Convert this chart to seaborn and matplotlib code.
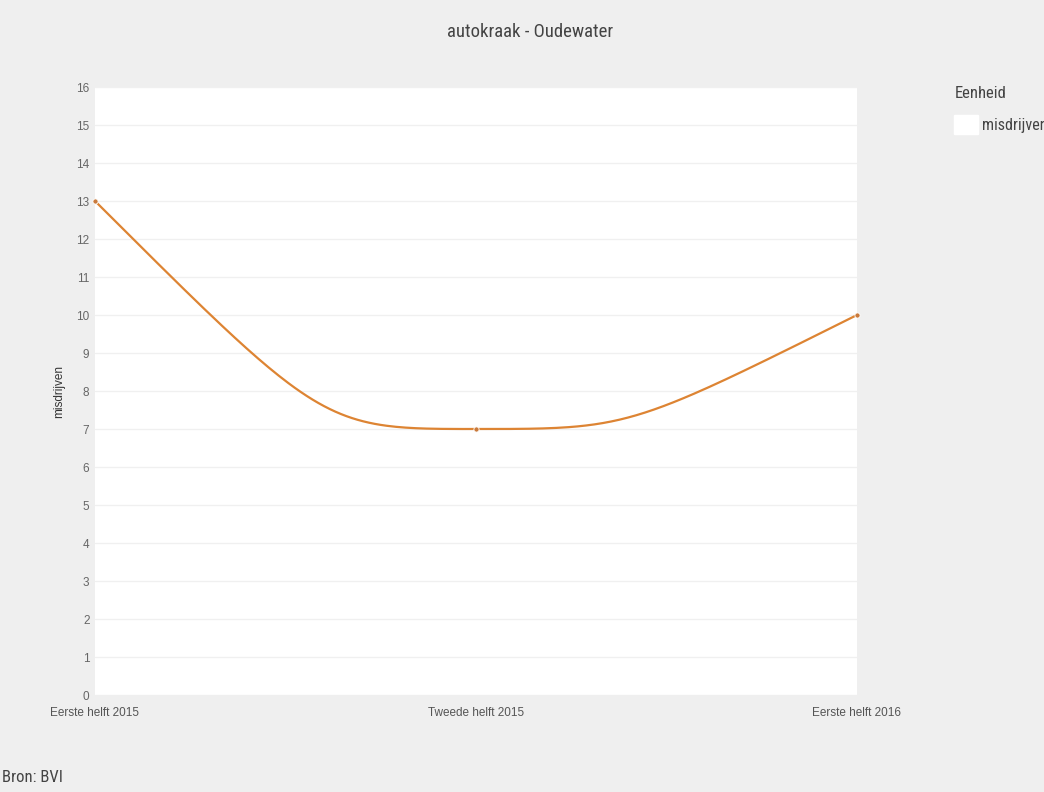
import numpy as np
import pandas as pd
import matplotlib
matplotlib.use("Agg")
import matplotlib.pyplot as plt
import seaborn as sns
from matplotlib.patches import Patch

# ---- data ----
categories = ["Eerste helft 2015", "Tweede helft 2015", "Eerste helft 2016"]
values = [13, 7, 10]
yticks = list(range(0, 17))
title = "autokraak - Oudewater"
ylabel = "misdrijven"
legend_title = "Eenheid"
series_name = "misdrijven"
source = "Bron: BVI"

LINE = "#dd8433"
BG = "#efefef"
NARROW = ["Roboto Condensed", "Roboto", "DejaVu Sans"]


def spline_path(xs, ys, n=100):
    """Spline (cubic Bezier) rendering of the data line, Highcharts-like controls."""
    xs = list(map(float, xs))
    ys = list(map(float, ys))
    N = len(xs)
    sm, den = 1.5, 2.5
    lc = [None] * N
    rc = [None] * N
    for i in range(1, N - 1):
        x, y = xs[i], ys[i]
        lx, ly = xs[i - 1], ys[i - 1]
        nx, ny = xs[i + 1], ys[i + 1]
        lcx, lcy = (sm * x + lx) / den, (sm * y + ly) / den
        rcx, rcy = (sm * x + nx) / den, (sm * y + ny) / den
        if rcx != lcx:
            corr = ((rcy - lcy) * (rcx - x)) / (rcx - lcx) + y - rcy
            lcy += corr
            rcy += corr
        if lcy > ly and lcy > y:
            lcy = max(ly, y); rcy = 2 * y - lcy
        elif lcy < ly and lcy < y:
            lcy = min(ly, y); rcy = 2 * y - lcy
        if rcy > ny and rcy > y:
            rcy = max(ny, y); lcy = 2 * y - rcy
        elif rcy < ny and rcy < y:
            rcy = min(ny, y); lcy = 2 * y - rcy
        lc[i] = (lcx, lcy)
        rc[i] = (rcx, rcy)
    px, py = [], []
    t = np.linspace(0, 1, n)
    for i in range(N - 1):
        p0 = np.array([xs[i], ys[i]])
        p3 = np.array([xs[i + 1], ys[i + 1]])
        c1 = rc[i] if rc[i] is not None else lc[i + 1]
        c2 = lc[i + 1] if lc[i + 1] is not None else rc[i]
        if c1 is None:
            c1 = p0
        if c2 is None:
            c2 = p3
        c1 = np.array(c1); c2 = np.array(c2)
        b = ((1 - t) ** 3)[:, None] * p0 + (3 * (1 - t) ** 2 * t)[:, None] * c1 \
            + (3 * (1 - t) * t ** 2)[:, None] * c2 + (t ** 3)[:, None] * p3
        px.extend(b[:, 0]); py.extend(b[:, 1])
    return np.array(px), np.array(py)


sns.set_theme(style="white")
plt.rcParams["font.family"] = ["Liberation Sans", "DejaVu Sans"]

fig = plt.figure(figsize=(10.44, 7.92), dpi=100)
fig.patch.set_facecolor(BG)
ax = fig.add_axes([95 / 1044, 1 - 695 / 792, (857 - 95) / 1044, (695 - 87) / 792])
ax.set_facecolor("white")

xpos = np.arange(len(categories))
cx, cy = spline_path(xpos, values)
curve = pd.DataFrame({"x": cx, "y": cy})
pts = pd.DataFrame({"x": xpos, "y": values})

sns.lineplot(data=curve, x="x", y="y", ax=ax, color=LINE, linewidth=1.6,
             estimator=None, sort=False)
sns.scatterplot(data=pts, x="x", y="y", ax=ax, color="#c97a3c", s=14,
                edgecolor="white", linewidth=0.6, zorder=5, clip_on=False)

ax.set_xlim(0, 2)
ax.set_ylim(0, 16)
ax.set_yticks(yticks)
ax.set_yticklabels([str(v) for v in yticks])
ax.set_xticks(xpos)
ax.set_xticklabels(categories)
ax.grid(axis="y", color="#f0f0f0", linewidth=1)
ax.grid(axis="x", visible=False)
for sp in ax.spines.values():
    sp.set_visible(False)
ax.tick_params(axis="y", length=0, pad=4, labelsize=8.5, labelcolor="#666666")
ax.tick_params(axis="x", length=0, pad=9, labelsize=8.5, labelcolor="#555555")
ax.set_xlabel("")
ax.set_ylabel(ylabel, fontsize=8.5, color="#333333", labelpad=8)

fig.text(530 / 1044, 1 - 32 / 792, title, ha="center", va="center",
         fontsize=13.5, color="#444444", family=NARROW)
fig.text(2 / 1044, 1 - 778 / 792, source, ha="left", va="center",
         fontsize=12, color="#444444", family=NARROW)

leg = fig.legend(handles=[Patch(facecolor="white", edgecolor="white", label=series_name)],
                 title=legend_title, loc="upper left",
                 bbox_to_anchor=(940 / 1044, 1 - 72 / 792), frameon=False,
                 handlelength=1.45, handleheight=1.45, handletextpad=0.3,
                 labelspacing=0.5, borderaxespad=0.5,
                 prop={"family": NARROW, "size": 11.5},
                 title_fontproperties={"family": NARROW, "size": 12})
leg._legend_box.align = "left"
leg._legend_box.sep = 10
for t in leg.get_texts():
    t.set_color("#444444")
leg.get_title().set_color("#444444")

fig.savefig("out.png", dpi=100, facecolor=BG)
